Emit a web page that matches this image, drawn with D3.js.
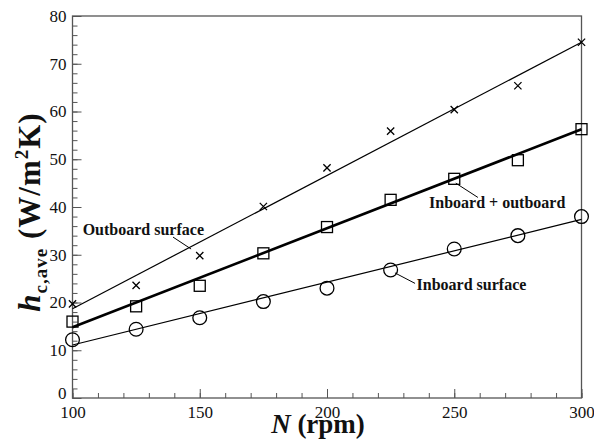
<!DOCTYPE html>
<html>
<head>
<meta charset="utf-8">
<script src="https://cdn.jsdelivr.net/npm/d3@7/dist/d3.min.js"></script>
</head>
<body style="margin:0; background:#fff">
<svg id="chart" style="display:block"></svg>
<script>
// rotational speed (rpm)
const rpm = [100, 125, 150, 175, 200, 225, 250, 275, 300];
// measured h_c,ave (W/m2K)
const outboard = [19.7, 23.6, 29.8, 40.1, 48.2, 55.9, 60.4, 65.4, 74.5];
const combined = [16.0, 19.2, 23.5, 30.3, 35.8, 41.5, 45.9, 49.8, 56.3];
const inboard = [12.2, 14.4, 16.8, 20.2, 23.0, 26.8, 31.2, 34.0, 38.0];
// linear fits, value at 100 and 300 rpm
const fitX = [100, 300];
const outboardFit = [18.7, 74.5];
const combinedFit = [14.8, 56.3];
const inboardFit = [11.1, 37.4];

const xTicks = [100, 150, 200, 250, 300];
const yTicks = [0, 10, 20, 30, 40, 50, 60, 70, 80];

// labels with leader lines (data coords)
const notes = [
  { text: "Outboard surface", tx: 104, ty: 34.1, from: [139.5, 33.7], to: [146.6, 31.2] },
  { text: "Inboard + outboard", tx: 240.1, ty: 39.8, from: [250.6, 45.0], to: [259.3, 42.0] },
  { text: "Inboard surface", tx: 235.2, ty: 22.6, from: [226.7, 26.2], to: [234.6, 24.0] }
];

const serif = "'Liberation Serif', 'Times New Roman', serif";
const width = 594, height = 442;
const margin = { top: 16, right: 12.5, bottom: 44, left: 72.5 };
const innerWidth = width - margin.left - margin.right;
const innerHeight = height - margin.top - margin.bottom;

const svg = d3.select("#chart")
  .attr("width", width)
  .attr("height", height)
  .style("font-family", serif);
const g = svg.append("g").attr("transform", `translate(${margin.left},${margin.top})`);

const x = d3.scaleLinear().domain([100, 300]).range([0, innerWidth]);
const y = d3.scaleLinear().domain([0, 80]).range([innerHeight, 0]);

const axisColor = "#555";

// minor ticks (inward)
g.append("g")
  .attr("transform", `translate(0,${innerHeight})`)
  .call(d3.axisBottom(x).tickValues(d3.range(100, 301, 10)).tickSize(-5).tickFormat(""))
  .call(a => a.select(".domain").remove())
  .call(a => a.selectAll("text").remove())
  .selectAll("line").attr("stroke", axisColor);
g.append("g")
  .call(d3.axisLeft(y).tickValues(d3.range(0, 81, 2)).tickSize(-5).tickFormat(""))
  .call(a => a.select(".domain").remove())
  .call(a => a.selectAll("text").remove())
  .selectAll("line").attr("stroke", axisColor);

// major ticks + labels
const xAxis = g.append("g")
  .attr("transform", `translate(0,${innerHeight})`)
  .call(d3.axisBottom(x).tickValues(xTicks).tickSizeInner(-9).tickSizeOuter(0).tickPadding(4).tickFormat(d3.format("d")));
const yAxis = g.append("g")
  .call(d3.axisLeft(y).tickValues(yTicks).tickSizeInner(-9).tickSizeOuter(0).tickPadding(6).tickFormat(d3.format("d")));

[xAxis, yAxis].forEach(a => {
  a.attr("font-family", null).attr("font-size", null);
  a.select(".domain").remove();
  a.selectAll("line").attr("stroke", axisColor);
  a.selectAll("text")
    .attr("fill", "#111")
    .style("font-family", serif)
    .style("font-size", "17px");
});
xAxis.selectAll("text").attr("dy", "0.95em");
yAxis.selectAll("text").filter(d => d === 0).attr("dy", "0.05em");

// frame
g.append("rect")
  .attr("width", innerWidth)
  .attr("height", innerHeight)
  .attr("fill", "none")
  .attr("stroke", axisColor)
  .attr("stroke-width", 1.3);

// fit lines
const fitLine = d3.line().x(d => x(d[0])).y(d => y(d[1]));
g.append("path").datum(d3.zip(fitX, outboardFit))
  .attr("d", fitLine).attr("fill", "none").attr("stroke", "#000").attr("stroke-width", 1.2);
g.append("path").datum(d3.zip(fitX, combinedFit))
  .attr("d", fitLine).attr("fill", "none").attr("stroke", "#000").attr("stroke-width", 2.6);
g.append("path").datum(d3.zip(fitX, inboardFit))
  .attr("d", fitLine).attr("fill", "none").attr("stroke", "#000").attr("stroke-width", 1.2);

// markers: crosses (outboard)
const cross = d3.symbol().type(d3.symbolX).size(36);
g.selectAll("path.out")
  .data(d3.zip(rpm, outboard))
  .enter().append("path")
  .attr("class", "out")
  .attr("d", cross)
  .attr("transform", d => `translate(${x(d[0])},${y(d[1])})`)
  .attr("fill", "none")
  .attr("stroke", "#000")
  .attr("stroke-width", 1.3);

// squares (inboard + outboard)
const sq = 11;
g.selectAll("rect.comb")
  .data(d3.zip(rpm, combined))
  .enter().append("rect")
  .attr("class", "comb")
  .attr("x", d => x(d[0]) - sq / 2)
  .attr("y", d => y(d[1]) - sq / 2)
  .attr("width", sq)
  .attr("height", sq)
  .attr("fill", "none")
  .attr("stroke", "#000")
  .attr("stroke-width", 1.3);

// circles (inboard)
g.selectAll("circle.in")
  .data(d3.zip(rpm, inboard))
  .enter().append("circle")
  .attr("class", "in")
  .attr("cx", d => x(d[0]))
  .attr("cy", d => y(d[1]))
  .attr("r", 6.9)
  .attr("fill", "none")
  .attr("stroke", "#000")
  .attr("stroke-width", 1.3);

// annotations
notes.forEach(n => {
  g.append("line")
    .attr("x1", x(n.from[0])).attr("y1", y(n.from[1]))
    .attr("x2", x(n.to[0])).attr("y2", y(n.to[1]))
    .attr("stroke", "#000").attr("stroke-width", 1);
  g.append("text")
    .attr("x", x(n.tx)).attr("y", y(n.ty))
    .style("font-family", serif)
    .style("font-size", "16px")
    .style("font-weight", "bold")
    .attr("fill", "#111")
    .text(n.text);
});

// x label
const xl = svg.append("text")
  .attr("x", 318).attr("y", 433)
  .attr("text-anchor", "middle")
  .style("font-family", serif)
  .style("font-size", "27px")
  .style("font-weight", "bold")
  .attr("fill", "#111");
xl.append("tspan").style("font-style", "italic").text("N");
xl.append("tspan").text(" (rpm)");

// y label
const yl = svg.append("text")
  .attr("transform", "translate(40,212) rotate(-90)")
  .attr("text-anchor", "middle")
  .style("font-family", serif)
  .style("font-size", "31px")
  .style("font-weight", "bold")
  .style("letter-spacing", "1px")
  .attr("fill", "#111");
yl.append("tspan").style("font-style", "italic").text("h");
yl.append("tspan").attr("dy", 7).style("font-size", "19px").text("c,ave");
yl.append("tspan").attr("dy", -7).text(" (W/m");
yl.append("tspan").attr("dy", -12).style("font-size", "19px").text("2");
yl.append("tspan").attr("dy", 12).text("K)");
</script>
</body>
</html>
